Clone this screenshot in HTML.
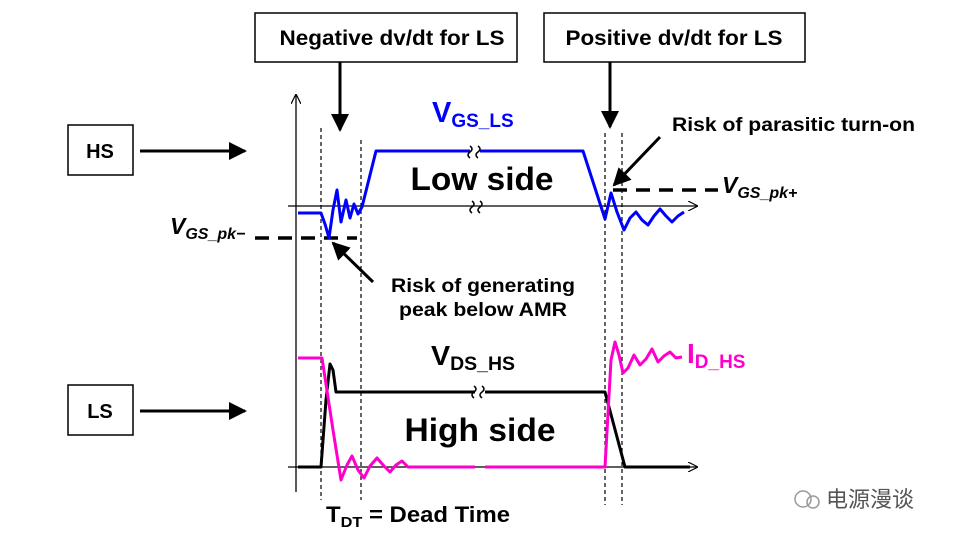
<!DOCTYPE html>
<html><head><meta charset="utf-8"><style>
html,body{margin:0;padding:0;background:#fff;}
svg{display:block;}
text{font-family:"Liberation Sans",Arial,sans-serif;font-weight:bold;}
</style></head><body>
<svg width="953" height="541" viewBox="0 0 953 541" xmlns="http://www.w3.org/2000/svg">
<defs>
<marker id="ah" markerWidth="10" markerHeight="10" refX="9" refY="5" orient="auto" markerUnits="userSpaceOnUse"><path d="M0,0 L10,5 L0,10" fill="none" stroke="#000" stroke-width="1.2"/></marker>
<marker id="big" markerWidth="18" markerHeight="18" refX="16" refY="9" orient="auto" markerUnits="userSpaceOnUse"><path d="M0,0 L18,9 L0,18 z" fill="#000"/></marker>
</defs>
<rect x="255" y="13" width="262" height="49" fill="#fff" stroke="#000" stroke-width="1.5"/>
<text x="392" y="45" font-size="21.5" text-anchor="middle" textLength="225" lengthAdjust="spacingAndGlyphs">Negative dv/dt for LS</text>
<rect x="544" y="13" width="261" height="49" fill="#fff" stroke="#000" stroke-width="1.5"/>
<text x="674" y="45" font-size="21.5" text-anchor="middle" textLength="217" lengthAdjust="spacingAndGlyphs">Positive dv/dt for LS</text>
<line x1="340" y1="62" x2="340" y2="130" stroke="#000" stroke-width="3" marker-end="url(#big)"/>
<line x1="610" y1="62" x2="610" y2="127" stroke="#000" stroke-width="3" marker-end="url(#big)"/>
<rect x="68" y="125" width="65" height="50" fill="#fff" stroke="#000" stroke-width="1.5"/>
<text x="100" y="158" font-size="20" text-anchor="middle">HS</text>
<line x1="140" y1="151" x2="245" y2="151" stroke="#000" stroke-width="3" marker-end="url(#big)"/>
<rect x="68" y="385" width="65" height="50" fill="#fff" stroke="#000" stroke-width="1.5"/>
<text x="100" y="418" font-size="20" text-anchor="middle">LS</text>
<line x1="140" y1="411" x2="245" y2="411" stroke="#000" stroke-width="3" marker-end="url(#big)"/>
<line x1="296" y1="492" x2="296" y2="95" stroke="#000" stroke-width="1.3" marker-end="url(#ah)"/>
<line x1="288" y1="206" x2="697" y2="206" stroke="#000" stroke-width="1.3" marker-end="url(#ah)"/>
<line x1="288" y1="467" x2="697" y2="467" stroke="#000" stroke-width="1.3" marker-end="url(#ah)"/>
<g stroke="#000" stroke-width="1.2" stroke-dasharray="4,3">
<line x1="321" y1="128" x2="321" y2="500"/>
<line x1="361" y1="140" x2="361" y2="500"/>
<line x1="605" y1="133" x2="605" y2="505"/>
<line x1="622" y1="133" x2="622" y2="505"/>
</g>
<line x1="255" y1="238" x2="357" y2="238" stroke="#000" stroke-width="3.5" stroke-dasharray="14,9"/>
<line x1="613" y1="190" x2="718" y2="190" stroke="#000" stroke-width="3.5" stroke-dasharray="14,9"/>
<path d="M298,213 L321,213 L325,224 L329,238 L333,210 L337,190 L341,222 L346,200 L350,218 L354,204 L358,214 L362,207 L376,151 L470,151 M480,151 L583,151 L605,219 L611,193 L617,212 L624,230 L630,218 L636,212 L642,220 L648,225 L654,216 L660,209 L666,216 L672,222 L678,216 L684,212" fill="none" stroke="#0000ff" stroke-width="3" stroke-linejoin="round"/>
<path d="M470,146 q4,3 0,6 q-4,3 0,6 M478,146 q4,3 0,6 q-4,3 0,6 M472,201 q4,3 0,6 q-4,3 0,6 M480,201 q4,3 0,6 q-4,3 0,6" fill="none" stroke="#000" stroke-width="1.5"/>
<path d="M298,467 L321,467 L326,400 L330,364 L333,370 L336,392 L475,392 M485,392 L605,392 L625,467 L690,467" fill="none" stroke="#000" stroke-width="3" stroke-linejoin="round"/>
<path d="M298,358 L322,358 L333,430 L341,480 L347,465 L352,456 L358,470 L364,478 L370,466 L377,458 L384,466 L390,472 L396,465 L402,461 L408,467 L475,467 M485,467 L605,467 L611,360 L615,342 L619,355 L623,373 L628,368 L634,355 L640,365 L646,359 L652,349 L658,362 L664,356 L670,352 L676,358 L682,357" fill="none" stroke="#ff00cc" stroke-width="3" stroke-linejoin="round"/>
<path d="M474,386 q4,3 0,6 q-4,3 0,6 M482,386 q4,3 0,6 q-4,3 0,6" fill="none" stroke="#000" stroke-width="1.5"/>
<line x1="373" y1="282" x2="333" y2="243" stroke="#000" stroke-width="3" marker-end="url(#big)"/>
<line x1="660" y1="137" x2="614" y2="185" stroke="#000" stroke-width="3" marker-end="url(#big)"/>
<text x="432" y="122" font-size="29" fill="#0000ff">V<tspan font-size="19" dy="5">GS_LS</tspan></text>
<text x="482" y="190" font-size="32" text-anchor="middle" textLength="143" lengthAdjust="spacingAndGlyphs">Low side</text>
<text x="480" y="441" font-size="32" text-anchor="middle" textLength="151" lengthAdjust="spacingAndGlyphs">High side</text>
<text x="431" y="365" font-size="28" textLength="84" lengthAdjust="spacingAndGlyphs">V<tspan font-size="19" dy="5">DS_HS</tspan></text>
<text x="687" y="363" font-size="28" fill="#ff00cc">I<tspan font-size="19" dy="5">D_HS</tspan></text>
<text x="326" y="522" font-size="22" textLength="184" lengthAdjust="spacingAndGlyphs">T<tspan font-size="15" dy="5">DT</tspan><tspan dy="-5">  = Dead Time</tspan></text>
<text x="672" y="131" font-size="19" textLength="243" lengthAdjust="spacingAndGlyphs">Risk of parasitic turn-on</text>
<text x="483" y="292" font-size="19.5" text-anchor="middle" textLength="184" lengthAdjust="spacingAndGlyphs">Risk of generating</text>
<text x="483" y="316" font-size="19.5" text-anchor="middle" textLength="168" lengthAdjust="spacingAndGlyphs">peak below AMR</text>
<text x="170" y="234" font-size="23" font-style="italic">V<tspan font-size="16" dy="5">GS_pk−</tspan></text>
<text x="722" y="193" font-size="23" font-style="italic">V<tspan font-size="16" dy="5">GS_pk+</tspan></text>
<circle cx="803" cy="499" r="8" fill="none" stroke="#999" stroke-width="1.5"/>
<circle cx="813" cy="502" r="6" fill="none" stroke="#999" stroke-width="1.5"/>
<text x="826" y="507" font-size="22" font-weight="normal" fill="#555" style='font-family:"Liberation Sans","Noto Sans CJK SC",sans-serif;font-weight:normal'>电源漫谈</text>
</svg>
</body></html>
